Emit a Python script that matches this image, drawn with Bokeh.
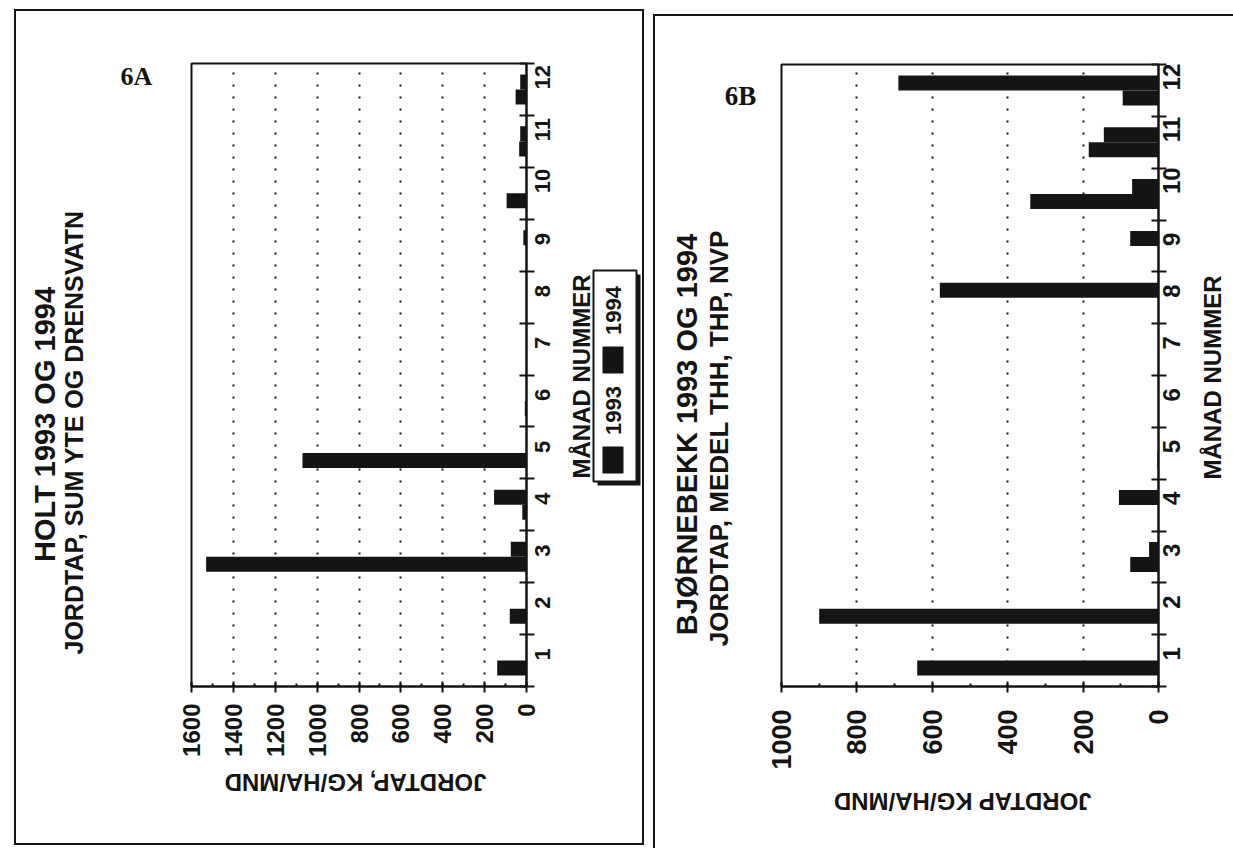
import math
from bokeh.plotting import figure
from bokeh.models import ColumnDataSource, Range1d, FixedTicker
from bokeh.core.properties import value
from bokeh.transform import dodge
from bokeh.layouts import row, column
from bokeh.embed import file_html
from bokeh.resources import INLINE

# Monthly soil loss (kg/ha per month), 1993 and 1994
months = list(range(1, 13))
holt_1993 = [140, 80, 1530, 20, 1070, 8, 0, 0, 0, 95, 35, 52]
holt_1994 = [0, 0, 75, 155, 0, 0, 0, 0, 15, 0, 30, 30]
bjorn_1993 = [640, 900, 75, 0, 3, 0, 0, 0, 0, 340, 185, 95]
bjorn_1994 = [0, 0, 25, 105, 0, 0, 0, 580, 75, 70, 145, 690]

holt_ticks = list(range(0, 1601, 200))
holt_minor = list(range(0, 1601, 100))
holt_grid = list(range(200, 1401, 200))
bjorn_ticks = list(range(0, 1001, 200))
bjorn_minor = list(range(0, 1001, 100))
bjorn_grid = list(range(200, 801, 200))
month_bounds = [m + 0.5 for m in range(0, 13)]

INK = "#141414"
SANS = "Liberation Sans"
SERIF = "Liberation Serif"
BAR_H = 0.29
H = 848


def sheet(x0, x1, y0, y1, w, h, left=0, right=0):
    """Plain drawing surface; its data space is page pixels (y down)."""
    p = figure(width=w, height=h, x_range=Range1d(x0, x1), y_range=Range1d(y1, y0),
               x_axis_location=None, y_axis_location=None,
               output_backend="svg", toolbar_location=None, min_border=0,
               min_border_left=left, min_border_right=right)
    p.outline_line_color = None
    p.xgrid.visible = False
    p.ygrid.visible = False
    p.background_fill_color = None
    p.border_fill_color = None
    return p


def write(p, x, y, s, size, angle=0.0, font=SANS):
    p.text(x=[x], y=[y], text=[s], angle=angle, text_font=value(font),
           text_font_style="bold", text_font_size=f"{size}px", text_color=INK,
           text_align="center", text_baseline="middle")


def chart(w, h, borders, vmax, ticks, minor, grid, s93, s94,
          tick_px, month_px, tick_standoff, month_standoff):
    left, right, top, bottom = borders
    p = figure(width=w, height=h, x_range=Range1d(vmax, 0),
               y_range=Range1d(0.5, 12.5), y_axis_location="right",
               output_backend="svg", toolbar_location=None,
               min_border_left=left, min_border_right=right,
               min_border_top=top, min_border_bottom=bottom)
    p.outline_line_color = INK
    p.outline_line_width = 2
    p.background_fill_color = None
    p.border_fill_color = None

    src = ColumnDataSource(dict(month=months, v1993=s93, v1994=s94))
    p.hbar(y=dodge("month", -BAR_H / 2, range=p.y_range), left=0, right="v1993",
           height=BAR_H, source=src, fill_color=INK, line_color=None)
    p.hbar(y=dodge("month", BAR_H / 2, range=p.y_range), left=0, right="v1994",
           height=BAR_H, source=src, fill_color=INK, line_color=None)

    xa = p.xaxis[0]
    xa.ticker = FixedTicker(ticks=ticks, minor_ticks=minor)
    xa.major_label_orientation = math.pi / 2
    xa.major_label_standoff = tick_standoff
    xa.major_tick_in = 5
    xa.major_tick_out = 6
    xa.minor_tick_in = 3
    xa.minor_tick_out = 0
    ya = p.yaxis[0]
    ya.ticker = FixedTicker(ticks=months, minor_ticks=month_bounds)
    ya.major_label_orientation = math.pi / 2
    ya.major_label_standoff = month_standoff
    ya.major_tick_in = 0
    ya.major_tick_out = 0
    ya.minor_tick_in = 7
    ya.minor_tick_out = 8
    for ax, sz in ((xa, tick_px), (ya, month_px)):
        ax.axis_line_color = INK
        ax.axis_line_width = 2
        ax.major_tick_line_color = INK
        ax.major_tick_line_width = 2
        ax.minor_tick_line_color = INK
        ax.minor_tick_line_width = 2
        ax.major_label_text_font = SANS
        ax.major_label_text_font_style = "bold"
        ax.major_label_text_font_size = f"{sz}px"
        ax.major_label_text_color = INK

    p.xgrid.ticker = FixedTicker(ticks=grid)
    p.xgrid.grid_line_color = INK
    p.xgrid.grid_line_width = 2
    p.xgrid.grid_line_dash = "2 10"
    p.ygrid.visible = False
    return p


def rules(lines):
    """CSS background layers drawing thin black rules: (x, y, w, h) each."""
    layers = [f"linear-gradient({INK},{INK}) {x}px {y}px / {w}px {h}px no-repeat"
              for x, y, w, h in lines]
    return {"background": ", ".join(layers)}


# ---- 6A: Holt ----  (panel spans page x 0..652; plot frame x 191..526, y 63..686)
a_left = sheet(0, 177, 0, H, 177, H)
a_main = chart(390, 762, (14, 41, 63, 76), 1600, holt_ticks, holt_minor, holt_grid,
               holt_1993, holt_1994, 24, 22, 11, 8)
a_bottom = sheet(191, 526, 762, H, 390, 86, left=14, right=41)
a_right = sheet(567, 652, 0, H, 85, H)

write(a_left, 136, 76, "6A", 26, font=SERIF)
write(a_left, 44, 424, "HOLT 1993 OG 1994", 29, math.pi / 2)
write(a_left, 73, 432, "JORDTAP, SUM YTE OG DRENSVATN", 25, math.pi / 2)
write(a_bottom, 355, 782, "JORDTAP, KG/HA/MND", 24, math.pi)
write(a_right, 581, 376, "MÅNAD NUMMER", 24, math.pi / 2)

# legend (1993 below, 1994 above), with a drop shadow
a_right.quad(left=597, right=640, top=274, bottom=485, fill_color=INK, line_color=None)
a_right.quad(left=593, right=636, top=270, bottom=481, fill_color="white",
             line_color=INK, line_width=2)
a_right.quad(left=[602, 602], right=[623, 623], top=[446, 346], bottom=[473, 373],
             fill_color=INK, line_color=None)
write(a_right, 613, 410, "1993", 22, math.pi / 2)
write(a_right, 613, 310, "1994", 22, math.pi / 2)

panel_a = row(a_left, column(a_main, a_bottom), a_right,
              styles=rules([(14, 9, 630, 2), (14, 843, 630, 2),
                            (14, 9, 2, 836), (642, 9, 2, 836)]))

# ---- 6B: Bjørnebekk ----  (panel spans page x 652..1233; frame x 781..1158, y 64..687)
b_left = sheet(652, 765, 0, H, 113, H)
b_main = chart(433, 772, (16, 40, 64, 85), 1000, bjorn_ticks, bjorn_minor, bjorn_grid,
               bjorn_1993, bjorn_1994, 27, 24, 17, 5)
b_bottom = sheet(781, 1158, 772, H, 433, 76, left=16, right=40)
b_right = sheet(1198, 1233, 0, H, 35, H)

write(b_left, 740, 95, "6B", 27, font=SERIF)
write(b_left, 686, 434, "BJØRNEBEKK 1993 OG 1994", 29, math.pi / 2)
write(b_left, 718, 434, "JORDTAP,  MEDEL THH, THP, NVP", 26, math.pi / 2)
write(b_bottom, 962, 801, "JORDTAP KG/HA/MND", 24, math.pi)
write(b_right, 1212, 377, "MÅNAD NUMMER", 24, math.pi / 2)

panel_b = row(b_left, column(b_main, b_bottom), b_right,
              styles=rules([(1, 14, 580, 2), (1, 14, 2, 834)]))

page = row(panel_a, panel_b)
open("out.html", "w").write(file_html(page, INLINE))
